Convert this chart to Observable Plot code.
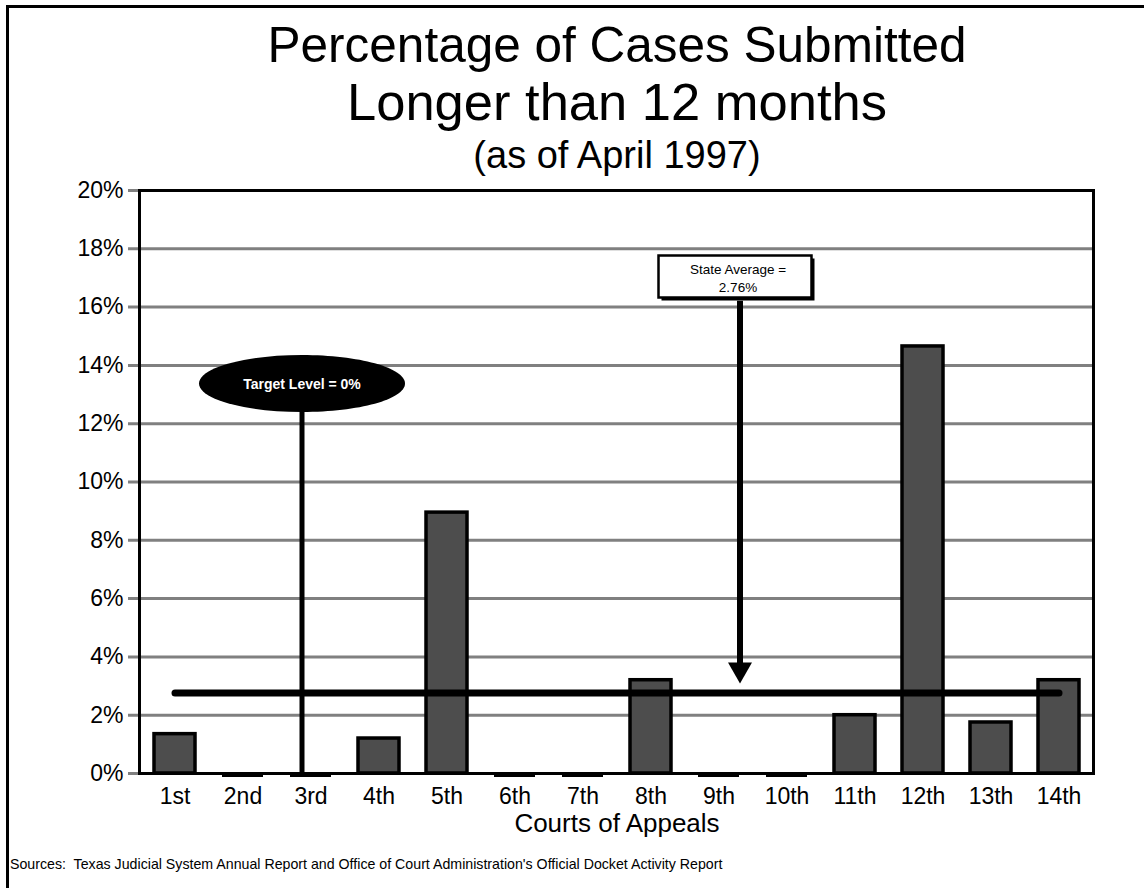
<!DOCTYPE html>
<html>
<head>
<meta charset="utf-8">
<script src="https://cdn.jsdelivr.net/npm/d3@7"></script>
<script src="https://cdn.jsdelivr.net/npm/@observablehq/plot@0.6"></script>
<style>
  html, body { margin: 0; padding: 0; background: #fff; }
  body {
    width: 1144px; height: 888px; overflow: hidden; position: relative;
    font-family: "Liberation Sans", Arial, Helvetica, sans-serif; color: #000;
  }
  #page-border {
    position: absolute; left: 6px; top: 5px; width: 1300px; height: 1000px;
    border-left: 3px solid #000; border-top: 3px solid #000;
  }
  .line {
    position: absolute; left: 117px; width: 1000px; text-align: center;
    line-height: 1; white-space: nowrap;
  }
  #title1 { top: 19.6px; font-size: 49.5px; }
  #title2 { top: 75.6px; font-size: 52.5px; }
  #subtitle { top: 136px; font-size: 38px; }
  #xlabel { top: 810px; font-size: 26px; }
  #chart { position: absolute; left: 0; top: 150px; }
  #sources {
    position: absolute; left: 10px; top: 857px; font-size: 14.2px;
    line-height: 1; white-space: nowrap;
  }
</style>
</head>
<body>
<div id="page-border"></div>
<div class="line" id="title1">Percentage of Cases Submitted</div>
<div class="line" id="title2">Longer than 12 months</div>
<div class="line" id="subtitle">(as of April 1997)</div>
<div id="chart"></div>
<div class="line" id="xlabel">Courts of Appeals</div>
<div id="sources">Sources:&nbsp; Texas Judicial System Annual Report and Office of Court Administration's Official Docket Activity Report</div>
<script>
// Courts of Appeals and the share of their cases under submission for more than 12 months (%)
const courts = ["1st", "2nd", "3rd", "4th", "5th", "6th", "7th", "8th", "9th", "10th", "11th", "12th", "13th", "14th"];
const pctOver12 = [1.35, 0, 0, 1.2, 8.95, 0, 0, 3.2, 0, 0, 2.0, 14.65, 1.75, 3.2];
const yTicks = [0, 2, 4, 6, 8, 10, 12, 14, 16, 18, 20];

// Reference levels
const stateAverage = 2.76;
const targetLevel = 0;

// Callout placement (in % on the y scale)
const targetCalloutAt = 13.38;
const averageBoxAt = 17.05;
const averageArrowFrom = 16.2;
const averageArrowTip = 3.09;

const data = courts.map((court, i) => ({court, pct: pctOver12[i]}));

// Custom symbols for the callouts
function ellipseSymbol(rx, ry) {
  const k = 0.5523;
  return {
    draw(ctx) {
      ctx.moveTo(rx, 0);
      ctx.bezierCurveTo(rx, ry * k, rx * k, ry, 0, ry);
      ctx.bezierCurveTo(-rx * k, ry, -rx, ry * k, -rx, 0);
      ctx.bezierCurveTo(-rx, -ry * k, -rx * k, -ry, 0, -ry);
      ctx.bezierCurveTo(rx * k, -ry, rx, -ry * k, rx, 0);
      ctx.closePath();
    }
  };
}
function boxSymbol(w, h) {
  return { draw(ctx) { ctx.rect(-w / 2, -h / 2, w, h); } };
}
// Downward arrowhead whose tip sits at the anchor point
function arrowHeadSymbol(w, h) {
  return {
    draw(ctx) {
      ctx.moveTo(0, 0);
      ctx.lineTo(-w / 2, -h);
      ctx.lineTo(w / 2, -h);
      ctx.closePath();
    }
  };
}

const targetCourt = [courts[2]];
const averageCourt = [courts[8]];
const fontFamily = '"Liberation Sans", Arial, Helvetica, sans-serif';

const chart = Plot.plot({
  width: 1144,
  height: 700,
  marginTop: 40,
  marginBottom: 77,
  marginLeft: 139,
  marginRight: 51,
  style: { fontFamily, fontSize: "23px", color: "#000", background: "transparent", overflow: "visible" },
  x: { domain: courts, paddingInner: 0.4, paddingOuter: 0.2, label: null, tickSize: 0, tickPadding: 14 },
  y: { domain: [0, 20], ticks: yTicks, label: null, tickSize: 0, tickPadding: 16, tickFormat: d => d + "%" },
  marks: [
    // gridlines, extended left of the axis as tick stubs
    Plot.ruleY(yTicks, { stroke: "#808080", strokeWidth: 3, insetLeft: -11 }),
    // bars
    Plot.barY(data, { x: "court", y: "pct", fill: "#4d4d4d", stroke: "#000", strokeWidth: 3.5 }),
    // zero-valued courts show as a flat bar on the baseline
    Plot.tickY(data.filter(d => d.pct === 0), { x: "court", y: 0, stroke: "#000", strokeWidth: 5, dy: 1 }),
    Plot.frame({ stroke: "#000", strokeWidth: 3 }),
    // state average line: thin hairline ends under a heavy rule
    Plot.ruleY([stateAverage], {
      x1: courts[0], x2: courts[courts.length - 1], stroke: "#000", strokeWidth: 1.2,
      insetLeft: 10.5, insetRight: -30
    }),
    Plot.line([courts[0], courts[courts.length - 1]], {
      x: d => d, y: stateAverage, stroke: "#000", strokeWidth: 7, strokeLinecap: "round"
    }),
    // target level callout
    Plot.ruleX(targetCourt, { x: d => d, y1: targetLevel, y2: targetCalloutAt, stroke: "#000", strokeWidth: 5, dx: -9 }),
    Plot.dot(targetCourt, { x: d => d, y: targetCalloutAt, r: 1, symbol: ellipseSymbol(103, 28.5), fill: "#000", stroke: "none", dx: -9 }),
    Plot.text(targetCourt, {
      x: d => d, y: targetCalloutAt, text: () => `Target Level = ${targetLevel}%`,
      fill: "#fff", fontWeight: "bold", fontSize: 14, dx: -9, dy: 1
    }),
    // state average callout
    Plot.ruleX(averageCourt, { x: d => d, y1: averageArrowTip + 0.6, y2: averageArrowFrom, stroke: "#000", strokeWidth: 6, dx: 21 }),
    Plot.dot(averageCourt, { x: d => d, y: averageArrowTip, r: 1, symbol: arrowHeadSymbol(24, 21), fill: "#000", stroke: "none", dx: 21 }),
    Plot.dot(averageCourt, { x: d => d, y: averageBoxAt, r: 1, symbol: boxSymbol(153, 42), fill: "#000", stroke: "none", dx: 19, dy: 3 }),
    Plot.dot(averageCourt, { x: d => d, y: averageBoxAt, r: 1, symbol: boxSymbol(153, 42), fill: "#fff", stroke: "#000", strokeWidth: 2.5, dx: 16 }),
    Plot.text(averageCourt, {
      x: d => d, y: averageBoxAt, text: () => `State Average =\n${stateAverage}%`,
      fill: "#000", fontSize: 13.5, lineHeight: 1.33, dx: 19, dy: 1
    })
  ]
});

document.getElementById("chart").appendChild(chart);
</script>
</body>
</html>
